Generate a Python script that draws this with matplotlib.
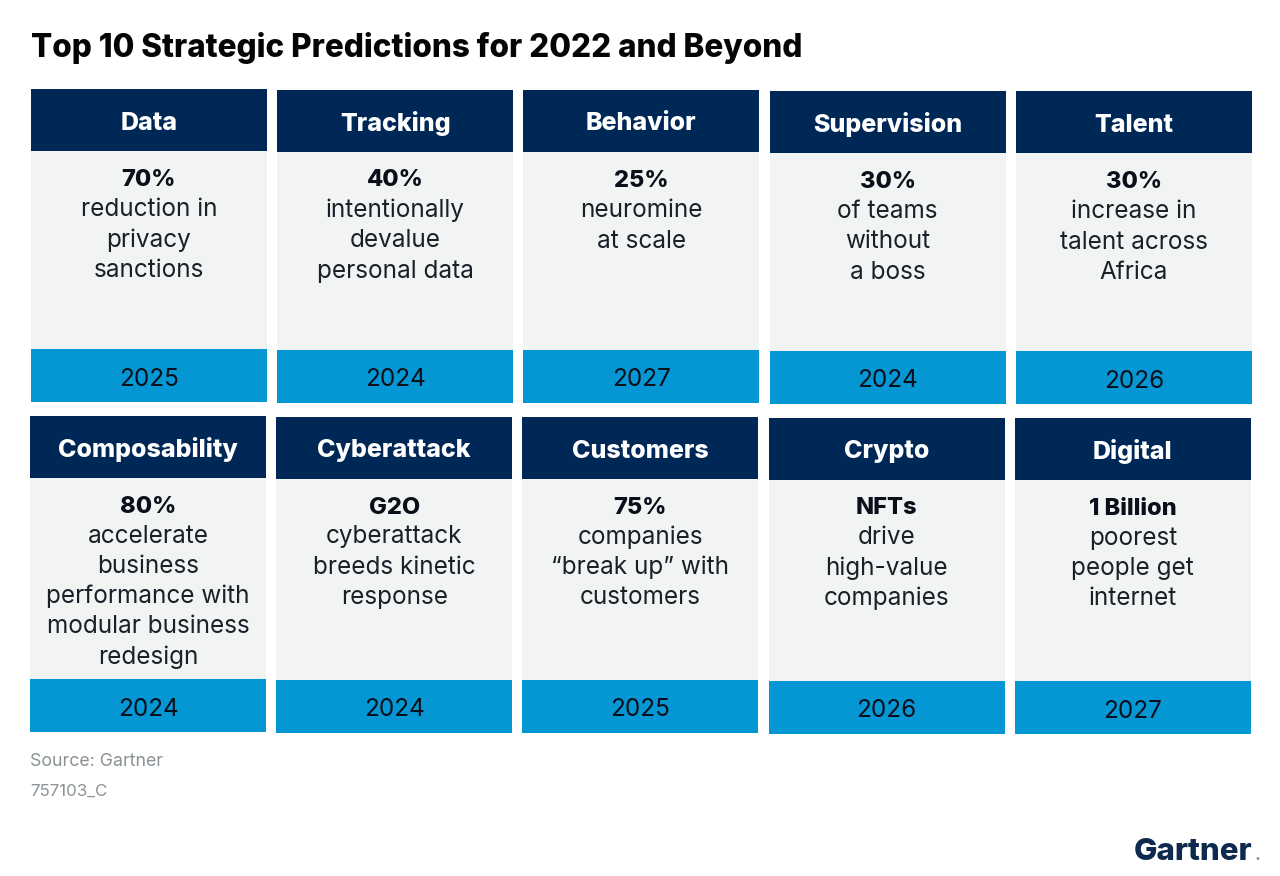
import matplotlib
matplotlib.use('Agg')
import matplotlib.pyplot as plt
from matplotlib.patches import Rectangle

plt.rcParams['font.family'] = ['Inter', 'DejaVu Sans']

title = 'Top 10 Strategic Predictions for 2022 and Beyond'
topics = ['Data', 'Tracking', 'Behavior', 'Supervision', 'Talent',
          'Composability', 'Cyberattack', 'Customers', 'Crypto', 'Digital']
headlines = ['70%', '40%', '25%', '30%', '30%',
             '80%', 'G2O', '75%', 'NFTs', '1 Billion']
details = [['reduction in', 'privacy', 'sanctions'],
           ['intentionally', 'devalue', 'personal data'],
           ['neuromine', 'at scale'],
           ['of teams', 'without', 'a boss'],
           ['increase in', 'talent across', 'Africa'],
           ['accelerate', 'business', 'performance with', 'modular business', 'redesign'],
           ['cyberattack', 'breeds kinetic', 'response'],
           ['companies', '\u201cbreak up\u201d with', 'customers'],
           ['drive', 'high-value', 'companies'],
           ['poorest', 'people get', 'internet']]
years = ['2025', '2024', '2027', '2024', '2026',
         '2024', '2024', '2025', '2026', '2027']

NAVY = '#002856'
BLUE = '#0596d4'
GREY = '#f2f3f3'
INK = '#0a0f1a'

fig = plt.figure(figsize=(12.8, 8.76), dpi=100)
ax = fig.add_axes([0, 0, 1, 1])
ax.set_xlim(0, 1280)
ax.set_ylim(876, 0)
ax.axis('off')

ax.text(31, 48, title, fontsize=22.7, fontweight=800, color='#050505',
        va='center', ha='left')

card_w = 236
step = 246.2
body_h = [198, 201]
line_h = [30.6, 30.1]
for i, topic in enumerate(topics):
    row = i // 5
    col = i % 5
    x = 31 - row + col * step
    y = 89 + row * 327 + col * 0.5
    bh = body_h[row]
    ax.add_patch(Rectangle((x, y), card_w, 62, fc=NAVY, ec='none'))
    ax.add_patch(Rectangle((x, y + 62), card_w, bh, fc=GREY, ec='none'))
    ax.add_patch(Rectangle((x, y + 62 + bh), card_w, 53, fc=BLUE, ec='none'))
    cx = x + card_w / 2
    ax.text(cx, y + 34, topic, fontsize=18, fontweight=800, color='white',
            ha='center', va='center')
    ax.text(cx, y + 91, headlines[i], fontsize=17, fontweight=800, color=INK,
            ha='center', va='center')
    for j, line in enumerate(details[i]):
        ax.text(cx, y + 120.5 + j * line_h[row], line, fontsize=17.5, color='#1a1f28',
                ha='center', va='center')
    ax.text(cx, y + 62 + bh + 30, years[i], fontsize=17.5, color=INK,
            ha='center', va='center')

ax.text(30, 761, 'Source: Gartner', fontsize=12.8, color='#8a9296', ha='left', va='center')
ax.text(30, 791, '757103_C', fontsize=12.2, color='#8a9296', ha='left', va='center')
ax.text(1134, 852, 'Gartner', fontsize=22.5, fontweight=800, color='#0f2a4f',
        ha='left', va='center')
ax.text(1254, 856, '.', fontsize=13, fontweight='bold', color='#8a9296', ha='left', va='center')

fig.savefig('out.png', dpi=100)
